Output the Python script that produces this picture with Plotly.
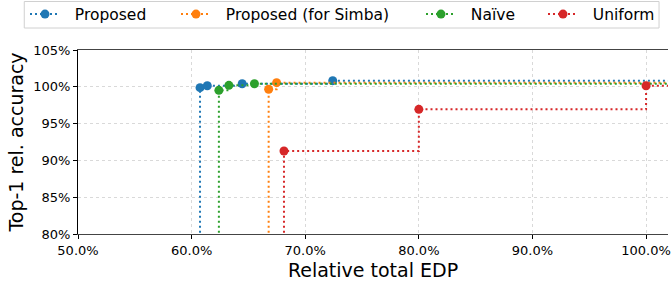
import plotly.graph_objects as go

# ---- data ----
proposed_x = [60.74, 61.38, 64.45, 72.42]
proposed_y = [99.88, 100.15, 100.42, 100.83]

simba_x = [66.78, 67.48]
simba_y = [99.66, 100.56]

naive_x = [62.40, 63.28, 65.53]
naive_y = [99.52, 100.20, 100.42]

uniform_x = [68.13, 80.0, 100.0]
uniform_y = [91.28, 96.94, 100.15]

series = [
    ("Proposed", proposed_x, proposed_y, "#1f77b4"),
    ("Proposed (for Simba)", simba_x, simba_y, "#ff7f0e"),
    ("Naïve", naive_x, naive_y, "#2ca02c"),
    ("Uniform", uniform_x, uniform_y, "#d62728"),
]

FONT = "DejaVu Sans"
NB = "\u00a0"
W, H = 671, 282
legend_px = [25, 176, 421, 543]          # left edge of each legend entry (px)
legend_ids = ["legend", "legend2", "legend3", "legend4"]

fig = go.Figure()
for i, (name, xs, ys, col) in enumerate(series):
    # step line, starting from the bottom and extending to the right
    lx = [xs[0]] + xs + [120]
    ly = [0] + ys + [ys[-1]]
    fig.add_trace(go.Scatter(
        x=lx, y=ly, mode="lines", line=dict(color=col, width=2, dash="2px,3px", shape="hv"),
        showlegend=False, hoverinfo="skip"))
    fig.add_trace(go.Scatter(
        x=xs, y=ys, mode="markers", marker=dict(color=col, size=9),
        showlegend=False))
    fig.add_trace(go.Scatter(
        x=[None], y=[None], mode="lines+markers", name=NB * 2 + name,
        legend=legend_ids[i],
        line=dict(color=col, width=2, dash="2px,3px"), marker=dict(color=col, size=9)))

leg_common = dict(orientation="h", xref="container", yref="container",
                  xanchor="left", y=1 - 14.5 / H, yanchor="middle",
                  font=dict(size=15.5, family=FONT), borderwidth=0,
                  bgcolor="rgba(0,0,0,0)")
legends = {lid: dict(leg_common, x=px / W) for lid, px in zip(legend_ids, legend_px)}

# plot area: x 78..671 px, y 50..234 px
def px_to_paper_x(px):
    return (px - 78) / 593

def px_to_paper_y(py):
    return (234 - py) / 184

fig.update_layout(
    width=W, height=H,
    margin=dict(l=78, r=0, t=50, b=48),
    paper_bgcolor="white", plot_bgcolor="white",
    font=dict(family=FONT, color="black", size=13),
    **legends,
    shapes=[dict(type="rect", xref="paper", yref="paper",
                 x0=px_to_paper_x(24), x1=px_to_paper_x(662),
                 y0=px_to_paper_y(28), y1=px_to_paper_y(1.5),
                 line=dict(color="#d0d0d0", width=1), fillcolor="white", layer="below")],
    xaxis=dict(range=[50, 101.93], tickvals=[50, 60, 70, 80, 90, 100],
               ticktext=["50.0%", "60.0%", "70.0%", "80.0%", "90.0%", "100.0%"],
               ticklabeloverflow="allow",
               showgrid=True, gridcolor="#d9d9d9", griddash="dot", gridwidth=1,
               showline=True, linecolor="#444444", linewidth=1.3, mirror=True,
               ticks="outside", ticklen=4, tickcolor="black",
               title=dict(text="Relative total EDP", font=dict(size=19), standoff=6),
               zeroline=False, tickfont=dict(size=13)),
    yaxis=dict(range=[80, 105], tickvals=[80, 85, 90, 95, 100, 105],
               ticktext=["80%", "85%", "90%", "95%", "100%", "105%"],
               showgrid=True, gridcolor="#d9d9d9", griddash="dot", gridwidth=1,
               showline=True, linecolor="black", linewidth=1,
               ticks="outside", ticklen=4, tickcolor="black",
               title=dict(text="Top-1 rel. accuracy", font=dict(size=19), standoff=4),
               zeroline=False, tickfont=dict(size=13)),
)

fig.write_html("out.html", config={"displayModeBar": False},
               post_script="document.body.style.margin='0px';")
